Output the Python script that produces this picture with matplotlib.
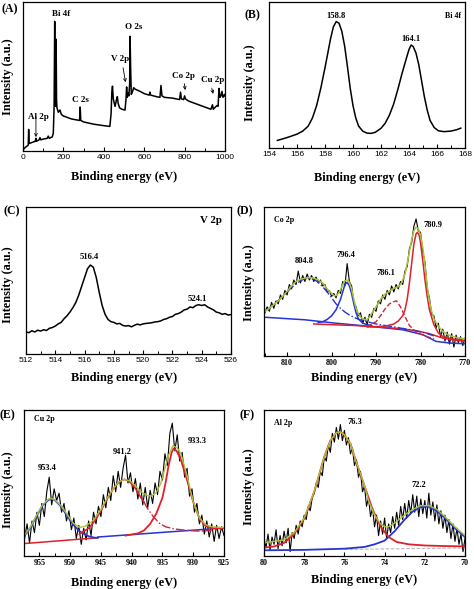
import matplotlib
matplotlib.use("Agg")
import numpy as np
import matplotlib.pyplot as plt
from matplotlib.ticker import MultipleLocator

# ---------------- (A) survey spectrum ----------------
survey_e = [0, 5, 12, 22, 26, 28, 30, 40, 50, 60,
            64, 66, 80, 84, 88, 100, 120, 125, 130, 145,
            150, 154, 157, 159, 162, 164, 166, 168, 175, 183,
            190, 200, 240, 280, 283, 286, 300, 350, 400, 430,
            436, 440, 443, 447, 452, 456, 462, 467, 471, 478,
            490, 505, 510, 513, 516, 520, 524, 528, 530, 533,
            536, 540, 548, 555, 580, 600, 625, 628, 632, 660,
            678, 683, 688, 700, 740, 775, 780, 784, 795, 800,
            804, 820, 860, 900, 930, 938, 942, 960, 966, 970,
            975, 980, 985, 990, 998, 1000]
survey_i = [1, 1.5, 2.5, 3.5, 4, 14.5, 5, 5.5, 6, 6.5,
            8.5, 6.5, 7.5, 9, 7.5, 8, 8.5, 10, 8.5, 9.5,
            12, 30, 87, 35, 30, 75, 35, 29, 26, 27.5,
            24.5, 23.5, 21.5, 20.5, 29.5, 20.5, 19.5, 18, 17, 16.5,
            25, 40, 43.5, 35, 32, 30, 34, 36.5, 32, 29,
            28, 27.5, 35, 43, 36, 39, 37, 45, 77, 55,
            38, 39, 42.5, 41.5, 40, 38.5, 37.5, 39.5, 37.5, 36.5,
            36, 44, 37, 36, 35.5, 34.5, 39.5, 35, 34.5, 37,
            35, 33.5, 31.5, 29.5, 28, 31, 28, 30.5, 30, 42,
            36, 37, 40, 36, 38, 37]

# ---------------- (B) Bi 4f ----------------
bi_e = [154.6, 155.0, 155.5, 156.0, 156.4, 156.8, 157.1, 157.4, 157.7, 158.0,
        158.2, 158.4, 158.6, 158.8, 159.0, 159.2, 159.4, 159.6, 159.8, 160.0,
        160.2, 160.4, 160.7, 161.0, 161.3, 161.6, 162.0, 162.3, 162.6, 162.9,
        163.2, 163.5, 163.8, 164.0, 164.15, 164.3, 164.5, 164.7, 164.9, 165.1,
        165.3, 165.5, 165.8, 166.1, 166.5, 167.0, 167.4, 167.7]
bi_i = [5.2, 6.3, 7.8, 9.5, 11.5, 15, 20.5, 29, 41, 55,
        65, 75, 83, 86.6, 85.5, 80, 70, 56, 41, 29,
        20.5, 15, 11.5, 10.2, 10, 10.8, 13.5, 17, 22.5, 30,
        40, 51, 61, 67.5, 70.5, 69.5, 65, 57, 46, 35,
        26, 19, 14, 11.8, 11.2, 11.6, 12.5, 13.6]

# ---------------- (C) V 2p ----------------
v_raw = [15, 14.5, 15.8, 15, 16.2, 15.6, 16.5, 16, 17.5, 18,
         19, 20.5, 21.5, 24, 26, 28.5, 31.5, 35, 40, 46,
         52, 58, 60.5, 59, 52, 42, 33, 27, 23.5, 22,
         21.5, 20.5, 20.8, 19.5, 19, 19.3, 18.5, 19.5, 20.3, 19.8,
         20.5, 20.8, 21, 21.3, 21.8, 22, 22.5, 23.5, 24, 25,
         25.5, 27, 27.5, 28.5, 30, 30.5, 32, 31.5, 33, 33.5,
         33, 33.5, 32, 31, 30, 28.5, 28, 27, 27.5, 26.5,
         26.8]

# ---------------- (D) Co 2p ----------------
co_raw = [29, 33, 30, 36, 32, 37, 35, 41, 38, 44,
          41, 48, 45, 51, 48, 57, 49, 54, 50, 55,
          51, 54, 50, 53, 49, 51, 47, 48, 43, 44,
          40, 42, 39, 44, 42, 50, 47, 62, 50, 47,
          36, 33, 27, 29, 22, 26, 21, 28, 26, 32,
          30, 37, 35, 41, 38, 44, 41, 47, 43, 48,
          45, 50, 48, 57, 60, 72, 76, 87, 92, 84,
          83, 70, 63, 45, 39, 28, 27, 19, 22, 13,
          18, 10, 16, 8, 15, 6, 14, 9, 13, 7,
          12]
co_env_e = [815, 814, 813, 812, 811, 810, 809, 808, 807, 806, 805, 804, 803, 802, 801,
            800, 799.5, 799, 798.5, 798, 797.5, 797, 796.5, 796, 795.5, 795, 794.5, 794,
            793.5, 793, 792.5, 792, 791.5, 791, 790, 789, 788, 787, 786, 785, 784.5, 784,
            783.5, 783, 782.5, 782, 781.5, 781, 780.5, 780, 779.5, 779, 778.5, 778, 777.5,
            777, 776, 775, 774, 773, 772, 771, 770]
co_env_i = [30, 32, 34.5, 37, 40, 43.5, 47, 50, 51.5, 52.3, 52.6, 52.3, 51, 49, 45,
            42, 40.5, 40.5, 42, 44.5, 48, 50.5, 51, 49.5, 45, 38, 32, 28.5,
            26, 25, 24.5, 24.5, 26, 28.5, 33, 38, 41.5, 43.5, 45.5, 46.5, 48, 51,
            55, 62, 70, 78, 84, 86.5, 85.5, 81, 73, 61, 47, 37, 30,
            25, 20, 16.5, 14.5, 13.3, 12.5, 12, 11.5]
co_p1_e = [803, 802, 801, 800, 799, 798, 797.5, 797, 796.5, 796, 795.5, 795, 794.5, 794, 793, 792, 791]
co_p1_i = [22.5, 23, 24.5, 27, 31, 38, 43, 48, 49.5, 47, 42, 35, 29, 25, 22, 21, 20.5]
co_sat1_e = [815, 813, 811, 809, 807, 806, 805, 804, 803, 802, 801, 800, 799, 798, 797,
             796, 795, 794, 792, 790, 788, 785, 782, 779, 777]
co_sat1_i = [30, 34.5, 40, 46, 50.5, 51.8, 52.2, 51.5, 49.5, 46.5, 43, 39, 35, 32, 29.5,
             27.5, 26, 24.7, 23, 21.5, 20.5, 19, 17.5, 15.5, 13.5]
co_bg1_e = [815, 806, 799, 791, 784, 779.5, 776.5, 773.5, 770]
co_bg1_i = [26, 24.3, 22, 19.8, 17.6, 14.3, 9.8, 8.7, 8.2]
co_bg2_e = [804, 800, 795, 790, 785, 781, 778, 775, 772, 770]
co_bg2_i = [21.5, 21, 20.5, 19.5, 18.5, 17, 15, 12, 10.5, 10]
co_p3_e = [792, 788, 786, 785, 784, 783.5, 783, 782.5, 782, 781.5, 781, 780.7, 780.3, 780,
           779.5, 779, 778.5, 778, 777, 776, 775, 773, 770]
co_p3_i = [19.5, 20, 21.5, 23.5, 27, 31, 38, 49, 62, 75, 82, 83, 81, 76,
           64, 51, 40, 31, 21, 15.5, 13, 11.5, 10.5]
co_sat3_e = [792, 790, 789, 788, 787, 786, 785.4, 784.5, 783.5, 782.5, 781, 779, 777]
co_sat3_i = [19.5, 23, 27, 31.5, 35, 36.5, 37, 33, 26.5, 20.5, 16, 13.5, 11.5]

# ---------------- (E) Cu 2p ----------------
cu_raw = [12, 22, 9, 24, 16, 30, 21, 36, 27, 44,
          54, 35, 46, 38, 43, 30, 36, 24, 31, 18,
          26, 12, 21, 8, 19, 11, 24, 14, 30, 22,
          34, 27, 42, 33, 47, 38, 55, 44, 58, 47,
          60, 69, 50, 57, 44, 53, 39, 50, 35, 47,
          33, 45, 36, 50, 42, 58, 52, 70, 62, 84,
          91, 72, 83, 65, 71, 54, 60, 41, 46, 30,
          36, 22, 28, 15, 24, 13, 22, 10, 21, 12,
          20, 14]
cu_env_e = [957.5, 956.5, 955.5, 954.5, 953.5, 953, 952.5, 951.5, 950.5, 949.5, 948.5,
            947.5, 946.2, 945, 944, 943, 942.2, 941.2, 940.3, 939.5, 938.5, 937.5, 936.8,
            936, 935.3, 934.6, 934, 933.3, 932.6, 932, 931, 930, 929, 928, 927, 925]
cu_env_i = [14, 19.5, 27.5, 35, 39, 39.3, 38.6, 34.5, 28.5, 22.5, 19.5,
            20.5, 24.5, 32, 39.5, 46, 50.5, 52.5, 51.5, 48.5, 44, 41.5, 41,
            43.5, 49.5, 60, 69, 75.5, 74, 70, 55, 37, 26, 21.5, 20, 19.5]
cu_p1_e = [957.5, 956.5, 955.5, 954.5, 953.5, 953, 952.5, 951.5, 950.5, 949.5, 948.5, 947, 946, 945.5]
cu_p1_i = [13.5, 19, 27, 34.5, 38.5, 39, 38.3, 34, 27.5, 21.5, 17, 13.5, 12.5, 12.5]
cu_bg1_e = [957.5, 945.5]
cu_bg1_i = [8.5, 12.5]
cu_bg2_e = [945.5, 925]
cu_bg2_i = [13, 19.2]
cu_sat_e = [948.5, 947, 946, 945, 944, 943, 942, 941.2, 940.5, 939.5, 938.5, 938]
cu_sat_i = [15, 19, 24, 31, 39, 46, 51, 52.5, 51.5, 47, 40, 37]
cu_sat_tail_e = [938, 937.5, 936.5, 935.5, 934.5, 933, 931, 929, 927]
cu_sat_tail_i = [37, 33, 27, 22.5, 20, 18.5, 17.5, 17, 17.5]
cu_p3_e = [941, 939, 938, 937, 936, 935, 934.5, 934, 933.5, 933.2, 932.7, 932, 931,
           930, 929, 928, 927, 925]
cu_p3_i = [14, 15.5, 17.5, 22, 29, 40, 50, 62, 71, 73.5, 72, 66, 52,
           37, 26, 20.5, 19, 19]

# ---------------- (F) Al 2p ----------------
al_raw = [12, 6, 15, 4, 13, 8, 18, 5, 14, 7,
          17, 9, 19, 3, 16, 12, 21, 15, 24, 20,
          28, 25, 34, 31, 40, 43, 50, 47, 58, 55,
          68, 65, 76, 71, 84, 78, 88, 80, 90, 79,
          86, 76, 81, 70, 74, 62, 66, 54, 58, 44,
          48, 34, 40, 27, 33, 20, 28, 14, 24, 15,
          26, 12, 22, 16, 27, 19, 30, 21, 34, 25,
          36, 26, 38, 29, 42, 30, 41, 27, 39, 29,
          38, 26, 43, 28, 37, 24, 35, 22, 31, 19,
          28, 16, 25, 12, 22, 10, 19, 8, 15, 3,
          12]
al_p1_e = [80, 79.5, 79, 78.5, 78, 77.5, 77, 76.7, 76.4, 76.2, 76, 75.7, 75.4, 75,
           74.6, 74.2, 73.8, 73.4, 72.8, 72, 71, 70]
al_p1_i = [5.7, 6.5, 9, 15, 25.5, 44, 68, 79, 84.5, 85, 83, 77, 64, 48,
           32, 20, 13, 9.6, 8, 7.2, 6.8, 6.6]
al_p2_e = [80, 78, 76, 75, 74.5, 74, 73.5, 73, 72.6, 72.2, 71.8, 71.4, 71, 70.5, 70]
al_p2_i = [3.9, 4.2, 5, 6.2, 8, 10.5, 17, 25, 30.5, 33.5, 33.8, 31, 26, 19, 13]
al_env_e = [80, 79, 78.5, 78, 77.5, 77, 76.7, 76.4, 76.2, 76, 75.7, 75.4, 75, 74.8,
            74.5, 74.2, 74, 73.8, 73.5, 73.2, 73, 72.6, 72.2, 71.8, 71.4, 71, 70.5, 70]
al_env_i = [9, 11, 16, 26, 44.5, 68, 79, 84.5, 85, 83, 77, 64, 48.5, 38,
            28, 22, 20, 20, 22.5, 26, 28, 32, 34.5, 34.5, 32, 27, 20, 14]
al_bg_e = [76, 70]
al_bg_i = [4.5, 5.5]

W, H = 474, 589
RED = "#e0202a"
BLUE = "#2434d6"
GREEN = "#a8c43a"
SERIF = ["Liberation Serif", "DejaVu Serif"]
SANS = ["Liberation Sans", "DejaVu Sans"]

fig = plt.figure(figsize=(W / 100, H / 100), dpi=100)


def box(l, t, r, b):
    return [l / W, 1 - b / H, (r - l) / W, (b - t) / H]


def setup(ax, xlim, major, minor, serif_ticks, xlab_px, ylab_px, rect):
    l, t, r, b = rect
    ax.set_xlim(*xlim)
    ax.set_ylim(0, 100)
    ax.xaxis.set_major_locator(MultipleLocator(major))
    ax.xaxis.set_minor_locator(MultipleLocator(minor))
    ax.set_yticks([])
    ax.tick_params(axis="x", which="major", direction="in", length=3, width=0.8, pad=2)
    ax.tick_params(axis="x", which="minor", direction="in", length=2, width=0.7)
    for s in ax.spines.values():
        s.set_linewidth(0.9)
    for lab in ax.get_xticklabels():
        if serif_ticks:
            lab.set_fontfamily(SERIF)
            lab.set_fontweight("bold")
            lab.set_fontsize(5.8)
        else:
            lab.set_fontfamily(SANS)
            lab.set_fontsize(6)
    ax.set_xlabel("Binding energy (eV)", family=SERIF, weight="bold", fontsize=8.8, va="center")
    ax.set_ylabel("Intensity (a.u.)", family=SERIF, weight="bold", fontsize=8.8, va="center")
    ax.xaxis.set_label_coords((xlab_px[0] - l) / (r - l), (b - xlab_px[1]) / (b - t))
    ax.yaxis.set_label_coords((ylab_px[0] - l) / (r - l), (b - ylab_px[1]) / (b - t))


def txt(ax, x, y, s, size=6, ha="center", weight="bold"):
    ax.text(x, y, s, family=SERIF, fontsize=size, weight=weight, ha=ha, va="center")


def panel(x, y, s):
    fig.text(x / W, 1 - y / H, s, family=SERIF, weight="bold", fontsize=8.5, ha="center", va="center")


# (A)
rA = (23, 2, 225, 151)
axA = fig.add_axes(box(*rA))
axA.plot(survey_e, survey_i, color="black", lw=1.1)
setup(axA, (0, 1000), 200, 100, False, (124, 177), (8, 77), rA)
txt(axA, 187, 92, "Bi 4f", 6.5)
txt(axA, 546, 83, "O 2s", 6.5)
txt(axA, 480, 62, "V 2p", 6.5)
txt(axA, 285, 34.5, "C 2s", 6.5)
txt(axA, 76, 22.5, "Al 2p", 6.5)
txt(axA, 794, 50.5, "Co 2p", 6.5)
txt(axA, 937, 47.5, "Cu 2p", 6.5)
arrow = dict(arrowstyle="->", lw=0.6, color="black", mutation_scale=5)
axA.annotate("", xy=(510, 44.3), xytext=(493, 57.7), arrowprops=arrow)
axA.annotate("", xy=(64, 7.4), xytext=(64, 25), arrowprops=arrow)
axA.annotate("", xy=(805, 39), xytext=(797, 47), arrowprops=arrow)
axA.annotate("", xy=(945, 36.5), xytext=(931, 44), arrowprops=arrow)
panel(10, 9, "(A)")

# (B)
rB = (269, 2, 465, 148)
axB = fig.add_axes(box(*rB))
axB.plot(bi_e, bi_i, color="black", lw=1.1)
setup(axB, (154, 168), 2, 1, False, (367, 178), (250, 83), rB)
txt(axB, 158.8, 90.5, "158.8", 6.2)
txt(axB, 164.15, 74.5, "164.1", 6.2)
txt(axB, 167.75, 90.5, "Bi 4f", 5.8, ha="right")
panel(252, 15, "(B)")

# (C)
rC = (26, 207, 231, 354)
axC = fig.add_axes(box(*rC))
axC.plot(np.linspace(512, 526, len(v_raw)), v_raw, color="black", lw=1.1)
setup(axC, (512, 526), 2, 1, False, (124, 378), (8, 285), rC)
txt(axC, 516.3, 66, "516.4", 6.2)
txt(axC, 523.7, 37.5, "524.1", 6.2)
txt(axC, 524.6, 91, "V 2p", 7.8)
panel(12, 211, "(C)")

# (D)
rD = (264, 207, 465, 356)
axD = fig.add_axes(box(*rD))
axD.plot(np.linspace(815, 770, len(co_raw)), co_raw, color="black", lw=0.8)
axD.plot(co_bg1_e, co_bg1_i, color=BLUE, lw=1.1)
axD.plot(co_bg2_e, co_bg2_i, color=RED, lw=1.1)
axD.plot(co_sat1_e, co_sat1_i, color=BLUE, lw=1.0, ls="-.")
axD.plot(co_p1_e, co_p1_i, color=BLUE, lw=1.1)
axD.plot(co_sat3_e, co_sat3_i, color="#c8283c", lw=1.0, ls="--")
axD.plot(co_p3_e, co_p3_i, color=RED, lw=1.1)
axD.plot(co_env_e, co_env_i, color=GREEN, lw=1.1)
setup(axD, (815.2, 770), 10, 5, True, (364, 378), (249, 283), rD)
txt(axD, 813, 91.5, "Co 2p", 5.8, ha="left")
txt(axD, 806.2, 64, "804.8", 6)
txt(axD, 796.8, 67.7, "796.4", 6)
txt(axD, 787.8, 55.5, "786.1", 6)
txt(axD, 777.3, 88, "780.9", 6)
panel(245, 211, "(D)")

# (E)
rE = (24, 410, 224, 556)
axE = fig.add_axes(box(*rE))
axE.plot(np.linspace(957.4, 925.0, len(cu_raw)), cu_raw, color="black", lw=0.8)
axE.plot(cu_bg1_e, cu_bg1_i, color=RED, lw=1.1)
axE.plot(cu_bg2_e, cu_bg2_i, color=BLUE, lw=1.1)
axE.plot(cu_p1_e, cu_p1_i, color=BLUE, lw=1.3)
axE.plot(cu_sat_e, cu_sat_i, color=RED, lw=1.2)
axE.plot(cu_sat_tail_e, cu_sat_tail_i, color="#c8283c", lw=1.0, ls="-.")
axE.plot(cu_p3_e, cu_p3_i, color=RED, lw=1.3)
axE.plot(cu_env_e, cu_env_i, color=GREEN, lw=1.0)
setup(axE, (957.5, 925), 5, 2.5, True, (124, 583), (8, 490), rE)
txt(axE, 955.8, 93.5, "Cu 2p", 5.8, ha="left")
txt(axE, 953.8, 60, "953.4", 6)
txt(axE, 941.6, 71, "941.2", 6)
txt(axE, 929.4, 79, "933.3", 6)
panel(7, 415, "(E)")

# (F)
rF = (264, 410, 465, 556)
axF = fig.add_axes(box(*rF))
axF.plot(np.linspace(80, 70, len(al_raw)), al_raw, color="black", lw=0.8)
axF.plot(al_bg_e, al_bg_i, color="#b0b0b0", lw=0.7, ls="--")
axF.plot(al_p2_e, al_p2_i, color=BLUE, lw=1.3)
axF.plot(al_p1_e, al_p1_i, color=RED, lw=1.3)
axF.plot(al_env_e, al_env_i, color=GREEN, lw=1.0)
setup(axF, (80, 70), 2, 1, True, (364, 580), (249, 487), rF)
txt(axF, 79.5, 91, "Al 2p", 5.8, ha="left")
txt(axF, 75.5, 92, "76.3", 6)
txt(axF, 72.3, 48.5, "72.2", 6)
panel(247, 415, "(F)")

fig.savefig("out.png", dpi=100)
